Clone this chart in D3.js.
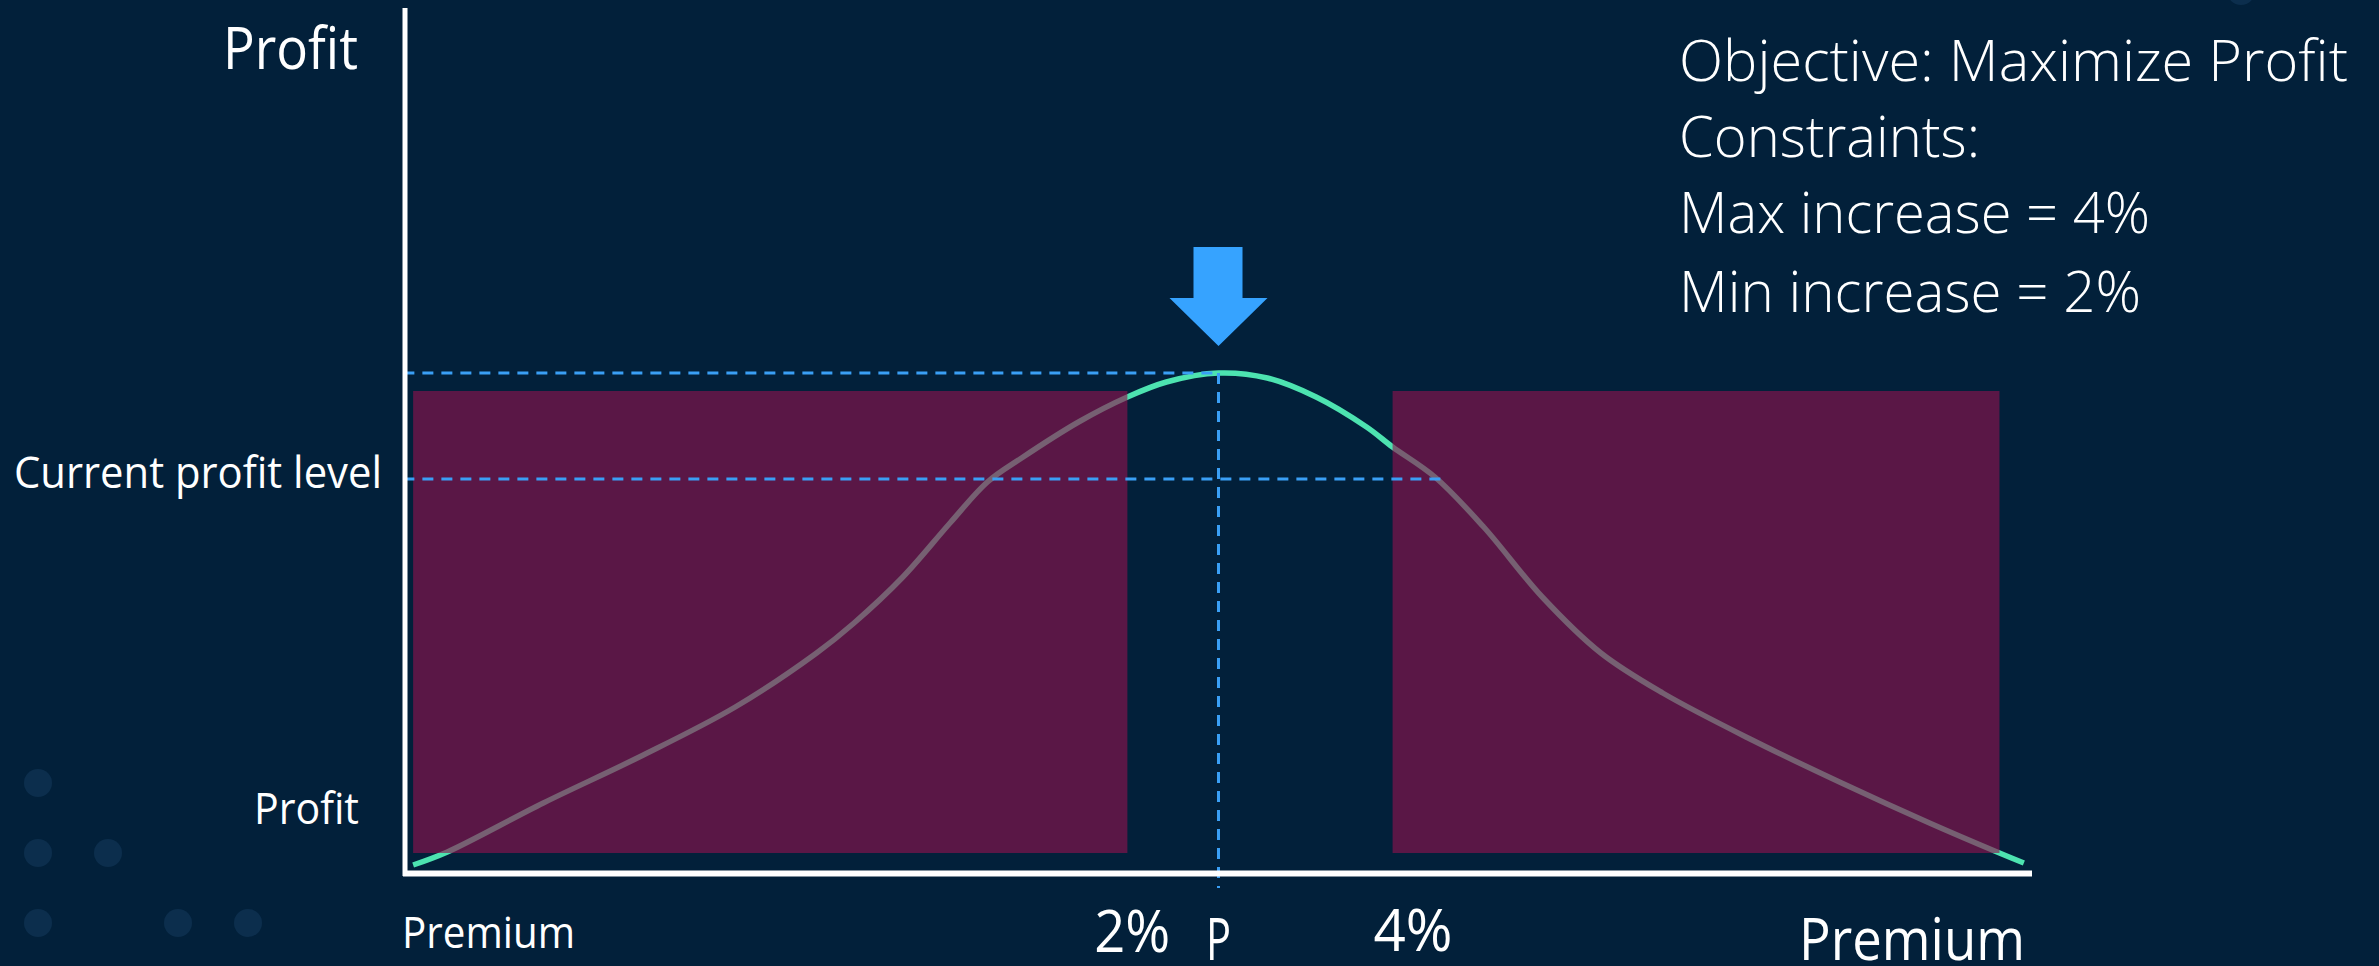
<!DOCTYPE html>
<html>
<head>
<meta charset="utf-8">
<script src="https://cdn.jsdelivr.net/npm/d3@7"></script>
<style>
  html, body { margin: 0; padding: 0; background: #02203a; overflow: hidden; }
  svg { display: block; }
  text { font-family: "Open Sans", "Noto Sans", sans-serif; fill: #ffffff; }
</style>
</head>
<body>
<svg id="chart" width="2379" height="966"></svg>
<script>
// ---- data (premium % of axis, profit % of peak) ----
const premium = [0.5, 2.6, 8.5, 14.4, 20.3, 25.3, 27.6, 30.6, 33.5, 35.8, 37.9, 41.4, 44.4, 46.8, 50.0,
                 53.0, 56.0, 59.1, 60.7, 63.3, 66.3, 69.9, 73.5, 77.3, 82.8, 88.3, 93.7, 98.0, 99.5];
const profit  = [1.6, 4.2, 14.0, 23.2, 33.2, 44.0, 50.0, 59.2, 70.0, 78.2, 83.0, 90.2, 95.2, 98.2, 100.0,
                 99.0, 95.2, 89.2, 85.2, 79.2, 69.2, 55.2, 44.0, 36.0, 26.6, 18.0, 10.0, 4.0, 2.0];
const infeasibleRegions = [[0.5, 44.4], [60.7, 98.0]];
const regionProfitRange = [4.0, 96.4];
const optimumPremium = 50.0;
const optimumProfit = 100.0;
const currentProfit = 78.8;
const currentLineEnd = 64.1;
const xTickLabels = ["2%", "P", "4%"];
const xTickValues = [44.7, 50.0, 61.95];
const yTickLabels = ["Current profit level", "Profit"];
const yTickValues = [currentProfit, 9.8];
const notes = ["Objective: Maximize Profit", "Constraints:", "Max increase = 4%", "Min increase = 2%"];
const decoDots = [[38, 783], [38, 853], [108, 853], [38, 923], [178, 923], [248, 923], [2241, -9]];

// ---- layout ----
const svg = d3.select("#chart");
const x = d3.scaleLinear().domain([0, 100]).range([405, 2032]);
const y = d3.scaleLinear().domain([0, 100]).range([873, 373]);

svg.append("rect").attr("width", 2379).attr("height", 966).attr("fill", "#02203a");

// decorative dots
svg.selectAll("circle.deco").data(decoDots).join("circle")
  .attr("class", "deco").attr("cx", d => d[0]).attr("cy", d => d[1]).attr("r", 14)
  .attr("fill", "#0c2e4d");

// curve
const line = d3.line().x((d, i) => x(premium[i])).y((d, i) => y(profit[i])).curve(d3.curveCatmullRom.alpha(0.5));
svg.append("path").datum(premium).attr("d", line)
  .attr("fill", "none").attr("stroke", "#4de3b0").attr("stroke-width", 5.5).attr("stroke-linecap", "butt");

// infeasible regions (translucent overlay)
svg.selectAll("rect.region").data(infeasibleRegions).join("rect")
  .attr("class", "region")
  .attr("x", d => x(d[0])).attr("width", d => x(d[1]) - x(d[0]))
  .attr("y", y(regionProfitRange[1])).attr("height", y(regionProfitRange[0]) - y(regionProfitRange[1]))
  .attr("fill", "#8e134d").attr("fill-opacity", 0.63);

// dashed guides
const dash = "11 8";
svg.append("line").attr("x1", x(-0.1)).attr("x2", x(optimumPremium)).attr("y1", y(optimumProfit)).attr("y2", y(optimumProfit))
  .attr("stroke", "#3a9ff5").attr("stroke-width", 3).attr("stroke-dasharray", dash);
svg.append("line").attr("x1", x(-0.1)).attr("x2", x(currentLineEnd)).attr("y1", y(currentProfit)).attr("y2", y(currentProfit))
  .attr("stroke", "#3a9ff5").attr("stroke-width", 3).attr("stroke-dasharray", dash);
svg.append("line").attr("x1", x(optimumPremium)).attr("x2", x(optimumPremium)).attr("y1", y(optimumProfit)).attr("y2", y(-3))
  .attr("stroke", "#3a9ff5").attr("stroke-width", 3).attr("stroke-dasharray", dash);

// axes
svg.append("line").attr("x1", 405).attr("x2", 405).attr("y1", 8).attr("y2", 876)
  .attr("stroke", "#ffffff").attr("stroke-width", 5);
svg.append("line").attr("x1", 403).attr("x2", x(100)).attr("y1", 873.5).attr("y2", 873.5)
  .attr("stroke", "#ffffff").attr("stroke-width", 6);

// arrow pointing at optimum
const ax = x(optimumPremium);
const arrowTip = y(optimumProfit) - 27;
const arrowPts = [[ax - 25, arrowTip - 99], [ax + 24, arrowTip - 99], [ax + 24, arrowTip - 48], [ax + 49, arrowTip - 48],
                  [ax, arrowTip], [ax - 49, arrowTip - 48], [ax - 25, arrowTip - 48]];
svg.append("polygon").attr("points", arrowPts.map(p => p.join(",")).join(" ")).attr("fill", "#36a3ff");

// axis titles
svg.append("text").attr("x", 358).attr("y", 69).attr("text-anchor", "end")
  .attr("font-size", 58).attr("textLength", 135).attr("lengthAdjust", "spacingAndGlyphs").text("Profit");
svg.append("text").attr("x", 402).attr("y", 948)
  .attr("font-size", 43).attr("textLength", 173).attr("lengthAdjust", "spacingAndGlyphs").text("Premium");
svg.append("text").attr("x", 1799).attr("y", 960)
  .attr("font-size", 58).attr("textLength", 226).attr("lengthAdjust", "spacingAndGlyphs").text("Premium");

// y tick-like labels
const yLabelWidths = [368, 105];
const yLabelRight = [382, 359];
const yLabelBaselineOffset = [9, 0];
svg.selectAll("text.ylab").data(yTickLabels).join("text")
  .attr("class", "ylab")
  .attr("x", (d, i) => yLabelRight[i] - yLabelWidths[i])
  .attr("y", (d, i) => y(yTickValues[i]) + yLabelBaselineOffset[i])
  .attr("font-size", 44)
  .attr("textLength", (d, i) => yLabelWidths[i]).attr("lengthAdjust", "spacingAndGlyphs")
  .text(d => d);

// x tick-like labels
const xLabelWidths = [76, 25, 79];
const xLabelBaseline = [952, 960, 951];
svg.selectAll("text.xlab").data(xTickLabels).join("text")
  .attr("class", "xlab")
  .attr("x", (d, i) => x(xTickValues[i]) - xLabelWidths[i] / 2)
  .attr("y", (d, i) => xLabelBaseline[i])
  .attr("font-size", 58)
  .attr("textLength", (d, i) => xLabelWidths[i]).attr("lengthAdjust", "spacingAndGlyphs")
  .text(d => d);

// notes block
const noteWidths = [669, 301, 471, 462];
const noteBaselines = [81, 157, 233, 312];
svg.selectAll("text.note").data(notes).join("text")
  .attr("class", "note")
  .attr("x", 1679).attr("y", (d, i) => noteBaselines[i])
  .attr("font-size", 57).attr("font-weight", 300)
  .attr("textLength", (d, i) => noteWidths[i]).attr("lengthAdjust", "spacingAndGlyphs")
  .text(d => d);
</script>
</body>
</html>
